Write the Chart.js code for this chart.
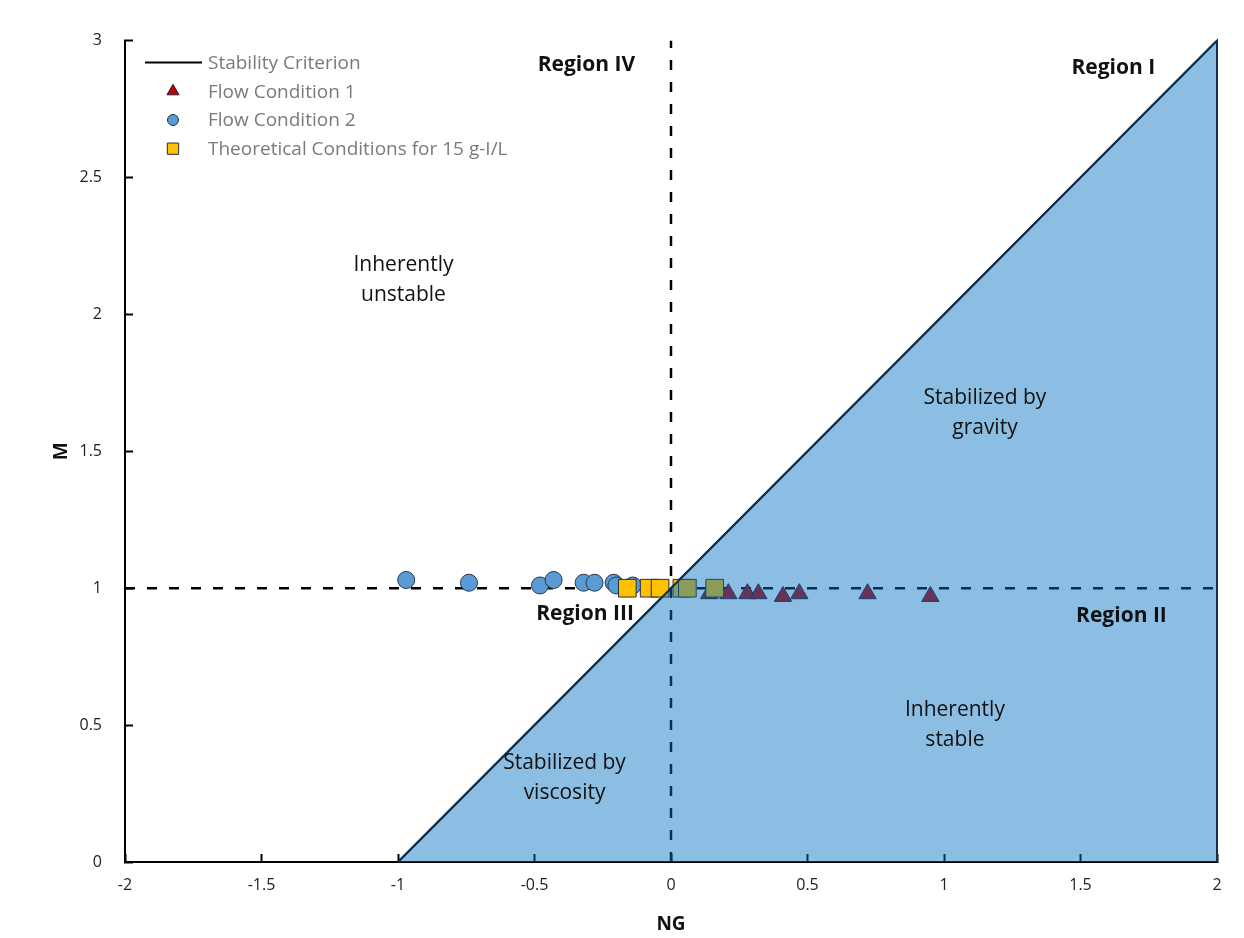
<!DOCTYPE html>
<html>
<head>
<meta charset="utf-8">
<script src="https://cdn.jsdelivr.net/npm/chart.js@4.4.1/dist/chart.umd.min.js"></script>
<style>
  html, body { margin: 0; padding: 0; background: #fff; }
  #wrap { width: 1244px; height: 938px; }
</style>
</head>
<body>
<div id="wrap"><canvas id="stabilityChart" width="1244" height="938"></canvas></div>
<script>
// values
const critNG = [-1, 2];
const critM = [0, 3];
const regionNG = [-1, 2, 2];
const regionM = [0, 3, 0];

const flow1NG = [0.14, 0.21, 0.28, 0.32, 0.41, 0.47, 0.72, 0.95];
const flow1M = [0.98, 0.98, 0.98, 0.98, 0.97, 0.98, 0.98, 0.97];

const flow2NG = [-0.97, -0.74, -0.48, -0.43, -0.32, -0.28, -0.21, -0.20, -0.14];
const flow2M = [1.03, 1.02, 1.01, 1.03, 1.02, 1.02, 1.02, 1.01, 1.01];

const theoNG = [-0.16, -0.08, -0.04, 0.04, 0.06, 0.16];
const theoM = [1.0, 1.0, 1.0, 1.0, 1.0, 1.0];

const hLineNG = [-2, 2];
const hLineM = [1, 1];
const vLineNG = [0, 0];
const vLineM = [0, 3];

const regionLabels = [
  { text: ['Region IV'], x: -0.31, y: 2.91, bold: true },
  { text: ['Region I'], x: 1.62, y: 2.90, bold: true },
  { text: ['Region III'], x: -0.315, y: 0.905, bold: true },
  { text: ['Region II'], x: 1.65, y: 0.90, bold: true },
  { text: ['Inherently', 'unstable'], x: -0.98, y: 2.125, bold: false },
  { text: ['Stabilized by', 'gravity'], x: 1.15, y: 1.64, bold: false },
  { text: ['Inherently', 'stable'], x: 1.04, y: 0.50, bold: false },
  { text: ['Stabilized by', 'viscosity'], x: -0.39, y: 0.305, bold: false }
];

// legend entries in the order shown in the picture
const legendLabels = ['Stability Criterion', 'Flow Condition 1', 'Flow Condition 2',
  'Theoretical Conditions for 15 g-I/L'];

const FONT = '"Open Sans", "Noto Sans", sans-serif';

function toPoints(xs, ys) {
  return xs.map((x, i) => ({ x: x, y: ys[i] }));
}

const textPlugin = {
  id: 'regionText',
  afterDatasetsDraw(chart) {
    const ctx = chart.ctx;
    const xs = chart.scales.x;
    const ys = chart.scales.y;
    ctx.save();
    ctx.fillStyle = '#111';
    ctx.textAlign = 'center';
    ctx.textBaseline = 'middle';
    regionLabels.forEach(lbl => {
      ctx.font = (lbl.bold ? 'bold ' : '') + '21px ' + FONT;
      const px = xs.getPixelForValue(lbl.x);
      const py = ys.getPixelForValue(lbl.y);
      const lh = 30;
      const y0 = py - (lbl.text.length - 1) * lh / 2;
      lbl.text.forEach((t, i) => ctx.fillText(t, px, y0 + i * lh));
    });
    ctx.restore();
  }
};

// legend drawn inside the plot area, top left
const legendPlugin = {
  id: 'insideLegend',
  afterDraw(chart) {
    const ctx = chart.ctx;
    const area = chart.chartArea;
    const x0 = area.left + 20;
    const textX = area.left + 83;
    let y = area.top + 22;
    ctx.save();
    ctx.font = '19px ' + FONT;
    ctx.textBaseline = 'middle';
    ctx.textAlign = 'left';
    legendLabels.forEach(name => {
      const ds = chart.data.datasets.find(d => d.label === name);
      if (ds.pointStyle === 'line') {
        ctx.strokeStyle = ds.borderColor;
        ctx.lineWidth = ds.borderWidth;
        ctx.beginPath();
        ctx.moveTo(x0, y);
        ctx.lineTo(x0 + 57, y);
        ctx.stroke();
      } else {
        ctx.fillStyle = ds.backgroundColor;
        ctx.strokeStyle = ds.borderColor;
        ctx.lineWidth = ds.borderWidth;
        Chart.helpers.drawPoint(ctx, {
          pointStyle: ds.pointStyle,
          radius: ds.legendRadius,
          rotation: 0,
          borderWidth: ds.borderWidth
        }, x0 + 28, y);
      }
      ctx.fillStyle = '#7a7a7a';
      ctx.fillText(name, textX, y + 1);
      y += 28.7;
    });
    ctx.restore();
  }
};

const ctx = document.getElementById('stabilityChart').getContext('2d');

const stabilityChart = new Chart(ctx, {
  type: 'scatter',
  data: {
    datasets: [
      {
        label: 'Stability Criterion',
        data: toPoints(critNG, critM),
        showLine: true,
        borderColor: '#000',
        backgroundColor: '#000',
        borderWidth: 2,
        pointRadius: 0,
        pointStyle: 'line',
        order: 5
      },
      {
        label: 'Flow Condition 1',
        data: toPoints(flow1NG, flow1M),
        pointStyle: 'triangle',
        pointRadius: 10,
        legendRadius: 7,
        backgroundColor: '#c00000',
        borderColor: '#1c2433',
        borderWidth: 1,
        order: 4
      },
      {
        label: 'Flow Condition 2',
        data: toPoints(flow2NG, flow2M),
        pointStyle: 'circle',
        pointRadius: 8.5,
        legendRadius: 5.5,
        backgroundColor: '#5b9bd5',
        borderColor: '#23384f',
        borderWidth: 1,
        order: 3
      },
      {
        label: 'Theoretical Conditions for 15 g-I/L',
        data: toPoints(theoNG, theoM),
        pointStyle: 'rect',
        pointRadius: 12.5,
        legendRadius: 8,
        backgroundColor: '#ffc000',
        borderColor: '#1f2f45',
        borderWidth: 1,
        order: 2
      },
      {
        label: 'hline',
        data: toPoints(hLineNG, hLineM),
        showLine: true,
        borderColor: '#000',
        borderWidth: 2.5,
        borderDash: [10, 12],
        pointRadius: 0,
        order: 6
      },
      {
        label: 'vline',
        data: toPoints(vLineNG, vLineM),
        showLine: true,
        borderColor: '#000',
        borderWidth: 2.5,
        borderDash: [10, 12],
        pointRadius: 0,
        order: 6
      },
      {
        label: 'region',
        data: toPoints(regionNG, regionM),
        showLine: true,
        fill: 'origin',
        backgroundColor: 'rgba(0, 110, 193, 0.45)',
        borderColor: '#0f3050',
        borderWidth: 2,
        pointRadius: 0,
        clip: 4,
        order: 0
      }
    ]
  },
  options: {
    responsive: false,
    animation: false,
    events: [],
    layout: {
      padding: { top: 38, right: 27, left: 0, bottom: 0 }
    },
    plugins: {
      tooltip: { enabled: false },
      legend: { display: false }
    },
    scales: {
      x: {
        type: 'linear',
        min: -2,
        max: 2,
        ticks: {
          stepSize: 0.5,
          padding: 22,
          color: '#222',
          font: { family: FONT, size: 16 },
          callback: v => String(v)
        },
        grid: {
          drawOnChartArea: false,
          drawTicks: true,
          tickLength: -8,
          tickWidth: 2,
          tickColor: '#000'
        },
        border: { display: true, color: '#000', width: 2 },
        title: {
          display: true,
          text: 'NG',
          color: '#111',
          font: { family: FONT, size: 19, weight: 'bold' },
          padding: { top: 0, bottom: 2 }
        },
        afterFit: scale => { scale.height = 76; }
      },
      y: {
        type: 'linear',
        min: 0,
        max: 3,
        ticks: {
          stepSize: 0.5,
          padding: 31,
          color: '#222',
          font: { family: FONT, size: 16 },
          callback: v => String(v)
        },
        grid: {
          drawOnChartArea: false,
          drawTicks: true,
          tickLength: -8,
          tickWidth: 2,
          tickColor: '#000'
        },
        border: { display: true, color: '#000', width: 2 },
        title: {
          display: true,
          text: 'M',
          color: '#111',
          font: { family: FONT, size: 19, weight: 'bold' },
          padding: { top: 50, bottom: 0 }
        },
        afterFit: scale => { scale.width = 125; }
      }
    }
  },
  plugins: [textPlugin, legendPlugin]
});
</script>
</body>
</html>
